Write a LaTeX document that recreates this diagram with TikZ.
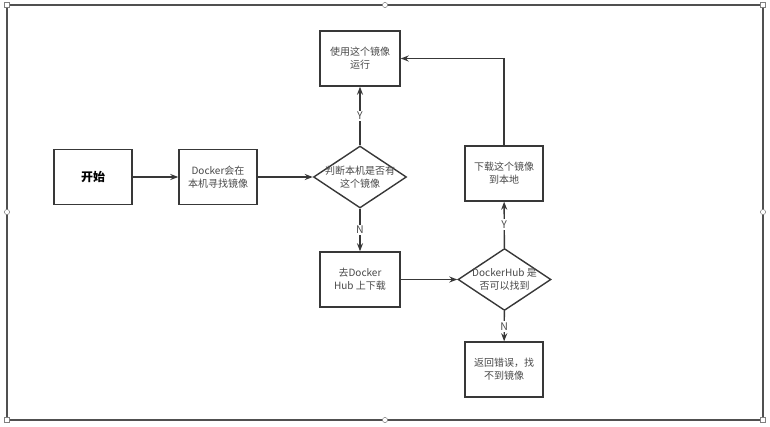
\documentclass[tikz,border=0pt]{standalone}
\usepackage{fontspec}
\newfontfamily\cjk{Noto Sans CJK SC}
\usetikzlibrary{shapes.geometric,arrows.meta}
\definecolor{linegray}{HTML}{383838}
\definecolor{textgray}{HTML}{4A4A4A}
\definecolor{framegray}{HTML}{505050}
\begin{document}
\begin{tikzpicture}[x=1pt,y=-1pt,>={Stealth[length=8pt,width=6pt]},
  every node/.style={font=\cjk\fontsize{10}{12.8}\selectfont,text=textgray},
  stepbox/.style={draw=linegray,line width=1.4pt,minimum width=78pt,minimum height=55pt,align=center,inner sep=0pt},
  askbox/.style={draw=linegray,line width=1.4pt,shape=diamond,aspect=1.5,minimum width=93pt,minimum height=62pt,inner sep=-8pt,align=center},
  flow/.style={draw=linegray,line width=1.4pt,->},
  yn/.style={fill=white,inner sep=1.5pt,font=\cjk\fontsize{10.5}{12}\selectfont}]
\useasboundingbox (0,0) rectangle (770,426);
\fill[white] (0,0) rectangle (770,426);
\draw[framegray,line width=1.2pt] (7,5) rectangle (763,420);
\foreach \hx/\hy in {7/5,763/5,7/420,763/420}
  \draw[gray,fill=white,line width=0.5pt] (\hx-2.5,\hy-2.5) rectangle (\hx+2.5,\hy+2.5);
\foreach \hx/\hy in {385/5,7/212,763/212,385/420}
  \draw[gray,fill=white,line width=0.5pt] (\hx,\hy) circle (2.6);
\node[stepbox,font=\cjk\bfseries\fontsize{12}{14}\selectfont,text=black] (start) at (93,177) {开始};
\node[stepbox] (find) at (218,177) {Docker会在\\本机寻找镜像};
\node[askbox] (local) at (360,177) {判断本机是否有\\这个镜像};
\node[stepbox,minimum width=80pt] (run) at (360,58.5) {使用这个镜像\\运行};
\node[stepbox,minimum width=80pt] (hub) at (360,279.5) {去Docker\\Hub 上下载};
\node[askbox] (found) at (504.5,279.5) {DockerHub 是\\否可以找到};
\node[stepbox] (pull) at (504,173.5) {下载这个镜像\\到本地};
\node[stepbox] (err) at (504,369.5) {返回错误，找\\不到镜像};
\draw[flow] (start) -- (find);
\draw[flow] (find) -- (local);
\draw[flow] (local) -- node[yn] {Y} (run);
\draw[flow] (local) -- node[yn] {N} (hub);
\draw[flow] (hub) -- (found);
\draw[flow] (found) -- node[yn] {Y} (pull);
\draw[flow] (found) -- node[yn] {N} (err);
\draw[flow] (pull) |- (run);
\end{tikzpicture}
\end{document}
